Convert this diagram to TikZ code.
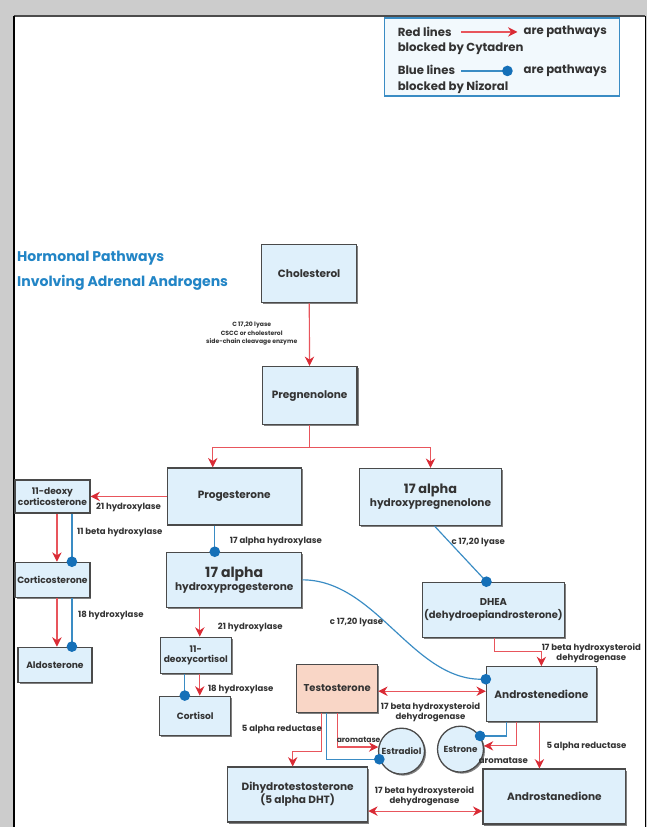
\documentclass[tikz,border=0pt]{standalone}
\usepackage{fontspec}
\setmainfont{Poppins}
\usetikzlibrary{positioning, arrows.meta, calc, shadows}

\definecolor{redline}{HTML}{E8555C}
\definecolor{redtip}{HTML}{D92B35}
\definecolor{blueline}{HTML}{3A8CC4}
\definecolor{bluedot}{HTML}{1570B8}
\definecolor{boxfill}{HTML}{DFF0FB}
\definecolor{boxline}{HTML}{4A4A4A}
\definecolor{testofill}{HTML}{F9D6C6}
\definecolor{titleblue}{HTML}{2285C6}
\definecolor{textgray}{HTML}{333333}
\definecolor{pagegray}{HTML}{CCCCCC}

\begin{document}
\begin{tikzpicture}[x=0.03cm, y=-0.03cm,
            sz/.style 2 args = {minimum width=#1*0.03cm, minimum height=#2*0.03cm},
            hormone/.style = {rectangle, draw=boxline, line width=1.1pt, fill=boxfill, align=center,
                inner sep=0.5pt, text=textgray, font=\bfseries\fontsize{9}{11}\selectfont,
                drop shadow={shadow xshift=1.3pt, shadow yshift=-1.3pt, fill=black!50, opacity=1}},
            small/.style = {font=\bfseries\fontsize{7.8}{9}\selectfont},
            ring/.style = {circle, draw=boxline, line width=1.1pt, fill=boxfill, inner sep=0pt,
                minimum size=46*0.03cm, text=textgray, font=\bfseries\fontsize{7.5}{9}\selectfont,
                drop shadow={shadow xshift=1.3pt, shadow yshift=-1.3pt, fill=black!50, opacity=1}},
            enzyme/.style = {inner sep=0pt, align=center, text=textgray, font=\bfseries\fontsize{7.3}{9}\selectfont},
            legendtxt/.style = {inner sep=0pt, anchor=west, text=textgray, font=\bfseries\fontsize{10}{12}\selectfont},
            redarr/.style = {draw=redline, line width=1pt, -{Stealth[length=8pt, width=8pt, color=redtip]}},
            redboth/.style = {draw=redline, line width=1pt, {Stealth[length=8pt, width=8pt, color=redtip]}-{Stealth[length=8pt, width=8pt, color=redtip]}},
            bluedotline/.style = {draw=blueline, line width=1pt, -{Circle[length=9pt, color=bluedot]}, shorten >=-4.5pt},
        ]
            % page frame
            \fill[pagegray] (0,0) rectangle (648,828);
            \fill[white] (14,16) rectangle (646,828);
            \draw[black!70, line width=1pt] (14,16) -- (646,16);
            \draw[black, line width=1.6pt] (14,16) -- (14,828);
            \draw[black, line width=1pt] (646,16) -- (646,828);

            % legend
            \node[rectangle, draw=blueline, line width=1.3pt, fill=boxfill!40, sz={235}{78}] (legend) at (502.5,57) {};
            \node[legendtxt] (redtxt) at (398,32) {Red lines};
            \node[legendtxt] (redwhy) at (524,32) {are pathways};
            \node[legendtxt] (redby) at (398,49) {blocked by Cytadren};
            \node[legendtxt] (bluetxt) at (398,70) {Blue lines};
            \node[legendtxt] (bluewhy) at (524,71) {are pathways};
            \node[legendtxt] (blueby) at (398,87) {blocked by Nizoral};
            \coordinate (r1) at (462,32);
            \coordinate (r2) at (518,32);
            \coordinate (b1) at (462,71);
            \coordinate (b2) at (508,71);
            \draw[redarr] (r1) -- (r2);
            \draw[bluedotline] (b1) -- (b2);

            % title
            \node[anchor=west, align=left, inner sep=0pt, text=titleblue, font=\bfseries\fontsize{12}{21}\selectfont]
                (title) at (17,271) {Hormonal Pathways\\Involving Adrenal Androgens};

            % hormones
            \node[hormone, sz={95}{58}] (chol) at (309.5,274) {Cholesterol};
            \node[hormone, sz={95}{58}] (preg) at (310,396) {Pregnenolone};
            \node[hormone, sz={134}{57}] (prog) at (234.5,497) {Progesterone};
            \node[hormone, sz={142}{57}] (ohpreg) at (431,497.5) {{\fontsize{11}{12}\selectfont 17 alpha}\\hydroxypregnenolone};
            \node[hormone, small, sz={75}{33}] (deoxycort) at (52.5,497) {11-deoxy\\corticosterone};
            \node[hormone, small, sz={75}{35}] (cortico) at (52.5,580.5) {Corticosterone};
            \node[hormone, small, sz={74}{35}] (aldo) at (55,665.5) {Aldosterone};
            \node[hormone, sz={135}{55}] (ohprog) at (234.5,580.5) {{\fontsize{12}{13}\selectfont 17 alpha}\\hydroxyprogesterone};
            \node[hormone, small, sz={71}{36}] (deoxycortisol) at (196,656) {11-\\deoxycortisol};
            \node[hormone, small, sz={71}{39}] (cortisol) at (195.5,716.5) {Cortisol};
            \node[hormone, sz={81}{48}, fill=testofill, font=\bfseries\fontsize{8.5}{10}\selectfont] (testo) at (337.5,689) {Testosterone};
            \node[hormone, sz={142}{55}, font=\bfseries\fontsize{8.5}{11}\selectfont] (dhea) at (494,610.5) {DHEA\\(dehydroepiandrosterone)};
            \node[hormone, sz={110}{55}] (andro1) at (542,695) {Androstenedione};
            \node[hormone, sz={143}{55}] (andro2) at (555,797.5) {Androstanedione};
            \node[hormone, sz={140}{55}] (dht) at (298,795.5) {Dihydrotestosterone\\(5 alpha DHT)};
            \node[ring] (estradiol) at (402,752) {Estradiol};
            \node[ring] (estrone) at (461,750) {Estrone};

            % red pathways
            \draw[redarr] (chol) -- (preg);
            \draw[redarr] (preg.south) -- ++(0,22) -| ($(prog.north)+(-21.5,0)$);
            \draw[redarr] (preg.south) -- ++(0,22) -| (ohpreg.north);
            \draw[redarr] (prog.west) -- (deoxycort.east);
            \draw[redarr] ($(deoxycort.south)+(4.5,0)$) -- ($(cortico.north)+(4.5,0)$);
            \draw[redarr] ($(cortico.south)+(4.5,0)$) -- ($(aldo.north)+(2,0)$);
            \draw[redarr] ($(ohprog.south)+(-34.5,0)$) -- ($(deoxycortisol.north)+(4,0)$);
            \draw[redarr] ($(deoxycortisol.south)+(4,0)$) -- ($(cortisol.north)+(4.5,0)$);
            \draw[redarr] ($(testo.south)+(-15.5,0)$) -- ++(0,39) -| ($(dht.north)+(-5,0)$);
            \draw[redarr] (testo.south) |- (estradiol.170);
            \draw[redarr] ($(dhea.south)+(1,0)$) -- ++(0,14) -| (andro1.north);
            \draw[redarr] ($(andro1.south)+(-25,0)$) |- (estrone.8);
            \draw[redarr] ($(andro1.south)+(-2,0)$) -- ($(andro2.north)+(-15,0)$);
            \draw[redboth] ($(testo.east)+(0,3)$) -- ($(andro1.west)+(0,-3)$);
            \draw[redboth] ($(dht.east)+(0,16.5)$) -- ($(andro2.west)+(0,14.5)$);

            % blue pathways
            \draw[bluedotline] ($(deoxycort.south)+(19.5,0)$) -- ($(cortico.north)+(19.5,0)$);
            \draw[bluedotline] ($(cortico.south)+(19.5,0)$) -- ($(aldo.north)+(17,0)$);
            \draw[bluedotline] ($(prog.south)+(-19.5,0)$) -- ($(ohprog.north)+(-19.5,0)$);
            \draw[bluedotline] ($(deoxycortisol.south)+(-11,0)$) -- ($(cortisol.north)+(-10.5,0)$);
            \draw[bluedotline] ($(ohpreg.south)+(4,0)$) -- ($(dhea.north)+(-7,0)$);
            \draw[bluedotline] (ohprog.east) to[out=0, in=180, looseness=0.9] ($(andro1.west)+(0,-15)$);
            \draw[bluedotline] ($(testo.south)+(-10.5,0)$) |- (estradiol.200);
            \draw[bluedotline] ($(andro1.south)+(-35,0)$) |- (estrone.34);

            % enzymes
            \node[enzyme, font=\bfseries\fontsize{5.2}{7.5}\selectfont] (e1) at (252,334) {C 17,20 lyase\\CSCC or cholesterol\\side-chain cleavage enzyme};
            \node[enzyme, anchor=west] (e2) at (96,508) {21 hydroxylase};
            \node[enzyme, anchor=west] (e3) at (77,533) {11 beta hydroxylase};
            \node[enzyme, anchor=west] (e4) at (78,616) {18 hydroxylase};
            \node[enzyme, anchor=west] (e5) at (230,542) {17 alpha hydroxylase};
            \node[enzyme, anchor=west] (e6) at (218,628) {21 hydroxylase};
            \node[enzyme, anchor=west] (e7) at (208,690) {18 hydroxylase};
            \node[enzyme, anchor=west] (e8) at (330,623) {c 17,20 lyase};
            \node[enzyme, anchor=west] (e9) at (452,543) {c 17,20 lyase};
            \node[enzyme] (e10) at (592,654) {17 beta hydroxysteroid\\dehydrogenase};
            \node[enzyme] (e11) at (431,713) {17 beta hydroxysteroid\\dehydrogenase};
            \node[enzyme, anchor=west] (e12) at (242,730) {5 alpha reductase};
            \node[enzyme, font=\bfseries\fontsize{6.5}{8}\selectfont] (e13) at (359,741) {aromatase};
            \node[enzyme] (e14) at (504,761) {aromatase};
            \node[enzyme, anchor=west] (e15) at (547,747) {5 alpha reductase};
            \node[enzyme] (e16) at (425,797) {17 beta hydroxysteroid\\dehydrogenase};
        \end{tikzpicture}
\end{document}
